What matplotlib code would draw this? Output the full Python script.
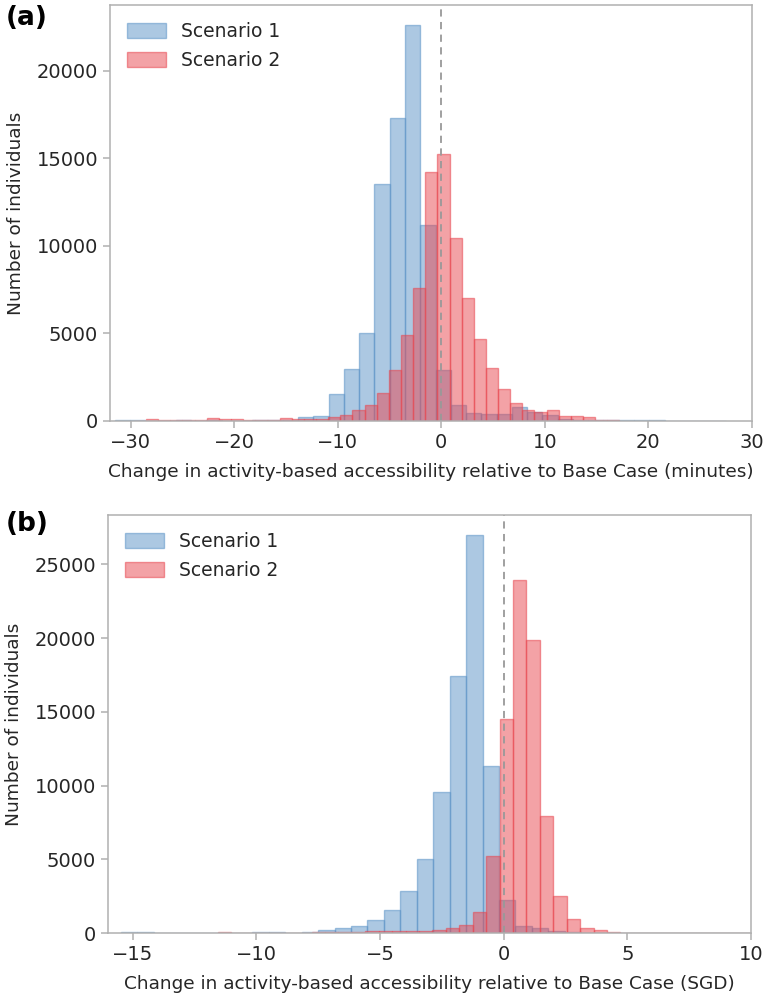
import numpy as np
import matplotlib
matplotlib.use('Agg')
import matplotlib.pyplot as plt
from matplotlib.colors import to_rgba

# Panel (a): change in accessibility (minutes), histogram counts per bin
a_s1_start, a_s1_width = -31.53, 1.475
a_s1_counts = [40, 60, 20, 20, 30, 20, 30, 20, 20, 30, 40, 80,
               250, 280, 1566, 2994, 5011, 13543, 17314, 22611, 11183, 2937,
               897, 457, 420, 380, 800, 500, 350, 100, 60, 50,
               40, 40, 60, 80, 20, 10, 5, 5]
a_s2_start, a_s2_width = -29.7, 1.173
a_s2_counts = [20, 140, 40, 80, 60, 30, 190, 120, 110, 60, 60, 70,
               160, 110, 120, 140, 230, 326, 611, 937, 1600, 2937, 4897, 7583,
               14194, 15223, 10440, 6994, 4651, 3029, 1811, 1051, 651, 497,
               611, 286, 270, 230, 40, 80]

# Panel (b): change in accessibility (SGD)
b_s1_start, b_s1_width = -15.485, 0.665
b_s1_counts = [40, 40, 10, 15, 20, 20, 15, 10, 60, 50, 20, 60,
               180, 320, 460, 855, 1580, 2880, 5014, 9550, 17440, 27000, 11350,
               2270, 450, 340, 115, 50, 20, 5, 5, 5, 0, 0, 0, 0, 0, 0, 0, 0]
b_s2_start, b_s2_width = -11.57, 0.543
b_s2_counts = [50, 15, 10, 15, 20, 20, 30, 40, 60, 80, 100, 110,
               120, 150, 110, 150, 230, 340, 560, 1460, 5200,
               14490, 23930, 19880, 7910, 2540, 970, 340, 180, 70, 30,
               10, 5, 0, 0, 0, 0, 0, 0, 0]

labels = ['Scenario 1', 'Scenario 2']
blue = '#5b93c7'
red = '#e8464f'
text_col = '#262626'
spine_col = '#b0b0b0'

plt.rcParams['font.family'] = ['DejaVu Sans']

fig = plt.figure(figsize=(7.64, 9.99), dpi=100)
ax_a = fig.add_axes([0.144, 0.5786, 0.840, 0.4164])
ax_b = fig.add_axes([0.1414, 0.066, 0.8416, 0.4185])


def draw_panel(ax, s1, s2, xlim, xticks, yticks, xlabel):
    for (start, width, counts), col, lab in zip([s1, s2], [blue, red], labels):
        edges = start + width * np.arange(len(counts) + 1)
        ax.hist(edges[:-1], bins=edges, weights=counts,
                facecolor=to_rgba(col, 0.5), edgecolor=to_rgba(col, 0.55),
                linewidth=1, label=lab)
    ax.axvline(0, color='#999999', linestyle='--', linewidth=1.3, dashes=(4, 3))
    ax.set_xlim(*xlim)
    ax.set_xticks(xticks)
    ax.set_yticks(yticks)
    ax.set_xlabel(xlabel, fontsize=13.3, color=text_col, labelpad=8)
    ax.set_ylabel('Number of individuals', fontsize=13.3, color=text_col, labelpad=8)
    for sp in ax.spines.values():
        sp.set_color(spine_col)
        sp.set_linewidth(1.1)
    ax.tick_params(axis='both', colors=spine_col, labelcolor=text_col,
                   labelsize=14, length=5, width=1.1)
    leg = ax.legend(loc='upper left', frameon=False, fontsize=13.5,
                    handlelength=2.1, handleheight=0.85, handletextpad=0.8,
                    labelspacing=0.55, borderaxespad=0.5)
    for t in leg.get_texts():
        t.set_color(text_col)


draw_panel(ax_a, (a_s1_start, a_s1_width, a_s1_counts),
           (a_s2_start, a_s2_width, a_s2_counts),
           (-32, 30), [-30, -20, -10, 0, 10, 20, 30],
           [0, 5000, 10000, 15000, 20000],
           'Change in activity-based accessibility relative to Base Case (minutes)')
draw_panel(ax_b, (b_s1_start, b_s1_width, b_s1_counts),
           (b_s2_start, b_s2_width, b_s2_counts),
           (-16, 10), [-15, -10, -5, 0, 5, 10],
           [0, 5000, 10000, 15000, 20000, 25000],
           'Change in activity-based accessibility relative to Base Case (SGD)')

fig.text(0.008, 0.995, '(a)', fontsize=19, fontweight='bold', va='top', ha='left')
fig.text(0.008, 0.488, '(b)', fontsize=19, fontweight='bold', va='top', ha='left')

fig.savefig('out.png', dpi=100)
